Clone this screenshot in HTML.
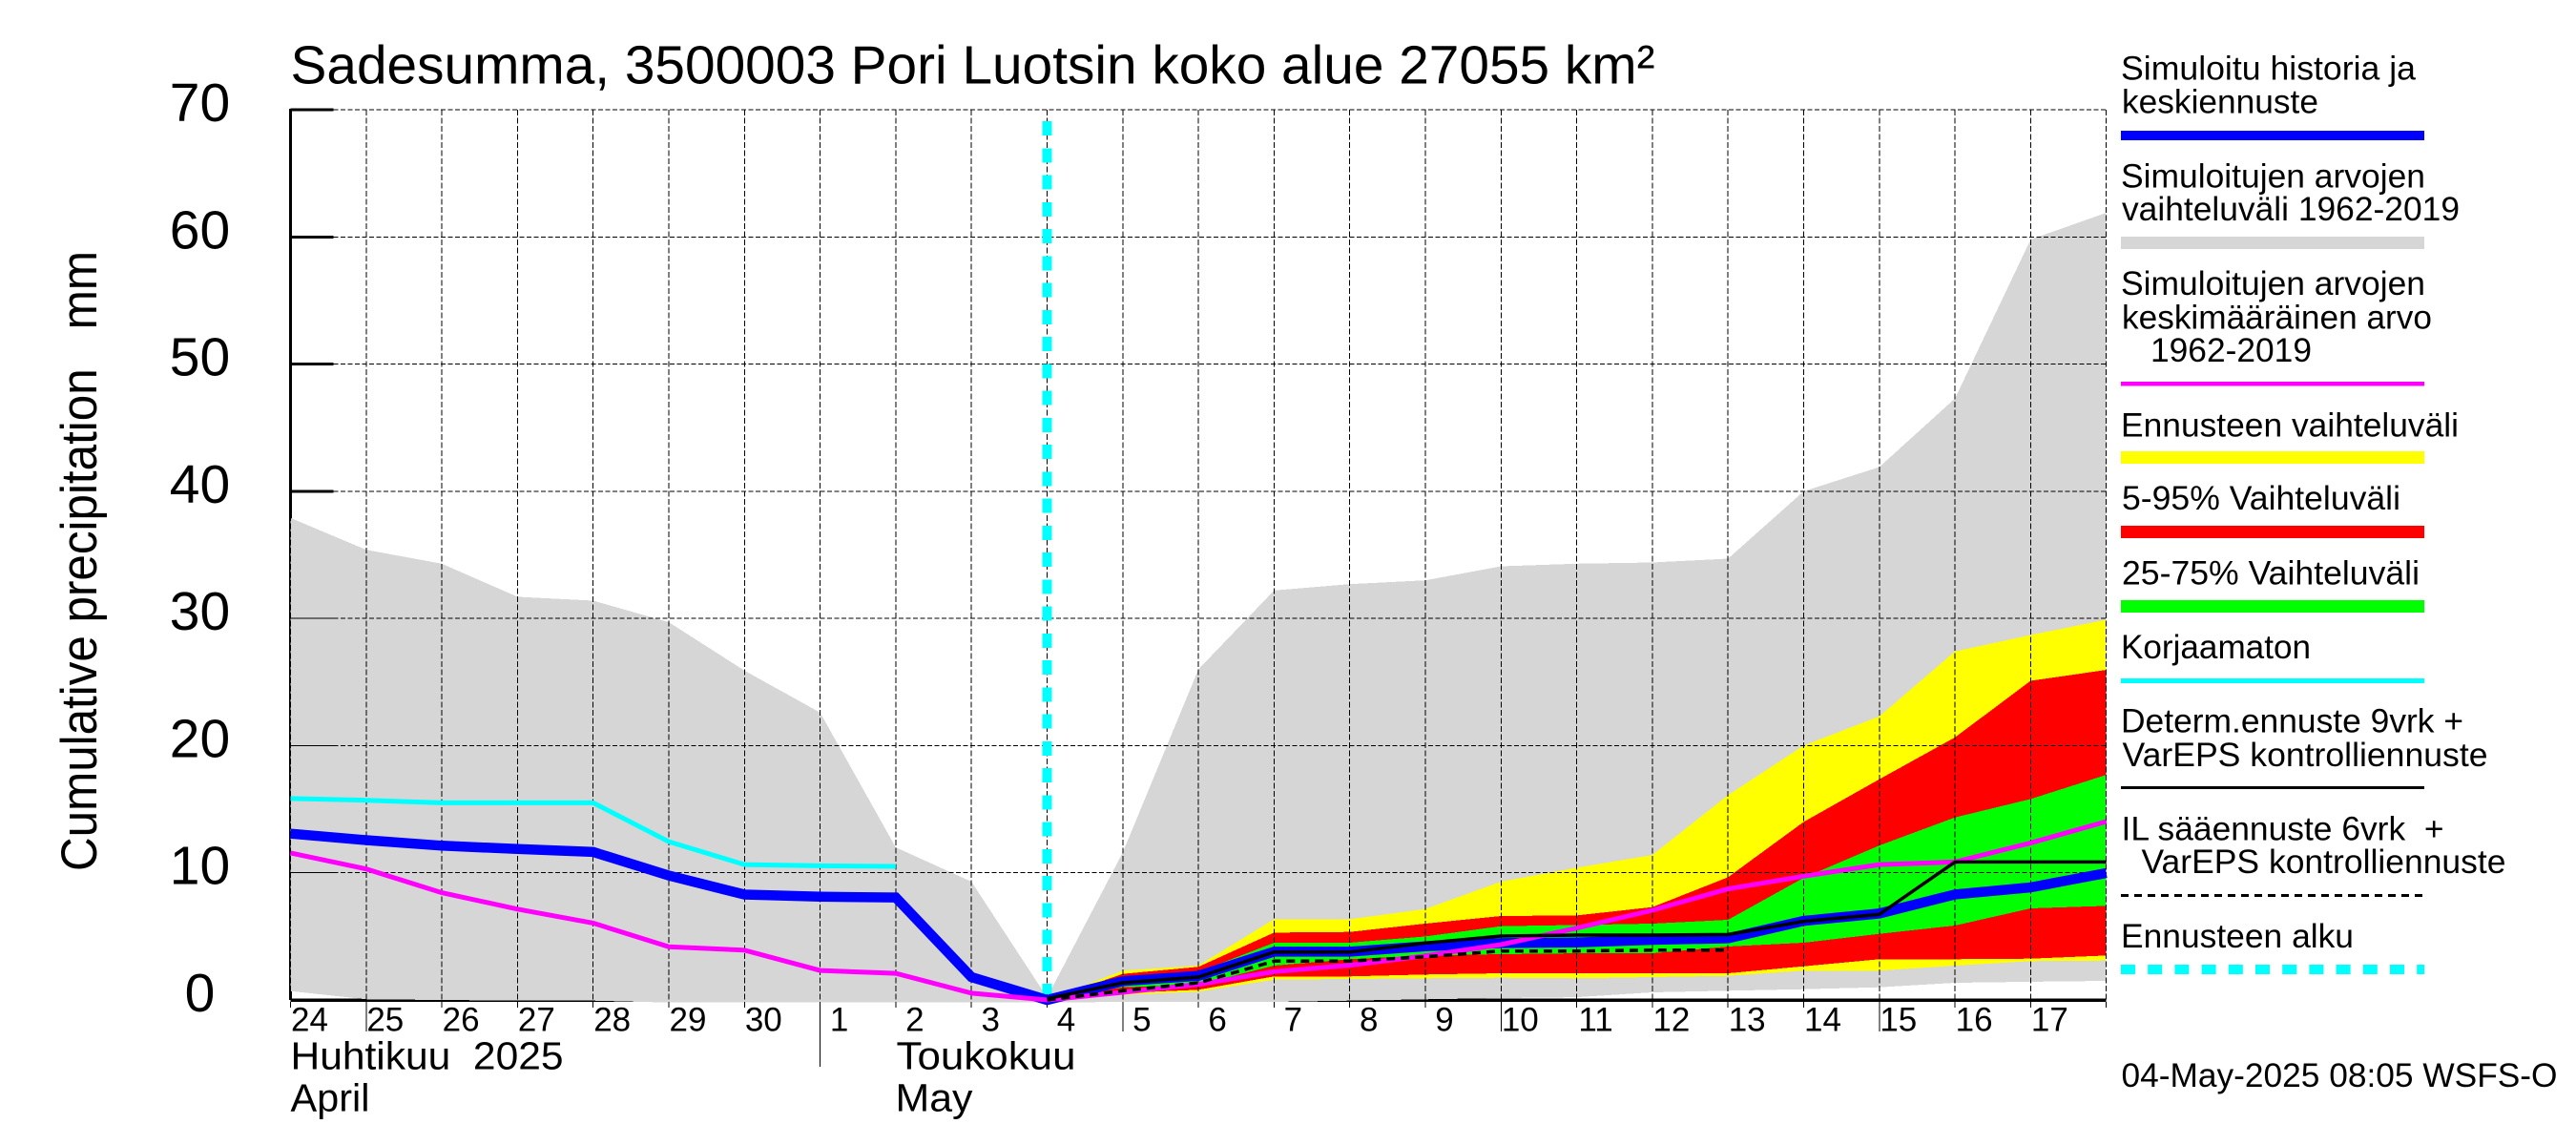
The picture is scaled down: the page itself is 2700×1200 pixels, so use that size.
<!DOCTYPE html>
<html lang="fi">
<head>
<meta charset="utf-8">
<title>Sadesumma, 3500003 Pori Luotsin koko alue</title>
<style>
  html, body { margin: 0; padding: 0; background: #fff; }
  svg { display: block; }
  text { font-family: "Liberation Sans", sans-serif; fill: #000; white-space: pre; }
  .lg { font-size: 35px; }
</style>
</head>
<body>
<svg id="chart" xmlns="http://www.w3.org/2000/svg" width="2700" height="1200" viewBox="0 0 2700 1200">
  <rect x="0" y="0" width="2700" height="1200" fill="#fff"/>
  <text x="304.5" y="87.5" font-size="57" textLength="1430" lengthAdjust="spacingAndGlyphs">Sadesumma, 3500003 Pori Luotsin koko alue 27055 km²</text>
  <text transform="translate(101,913) rotate(-90)" x="0" y="0" font-size="53" textLength="650" lengthAdjust="spacingAndGlyphs">Cumulative precipitation   mm</text>
  <g id="plot"></g>

  <text x="304.5" y="1120.5" font-size="41" textLength="286" lengthAdjust="spacingAndGlyphs">Huhtikuu  2025</text>
  <text x="304.5" y="1164.5" font-size="41" textLength="83" lengthAdjust="spacingAndGlyphs">April</text>
  <text x="939.5" y="1120.5" font-size="41" textLength="188" lengthAdjust="spacingAndGlyphs">Toukokuu</text>
  <text x="938.5" y="1164.5" font-size="41" textLength="81" lengthAdjust="spacingAndGlyphs">May</text>

  <g>
    <text class="lg" x="2223" y="83.4" textLength="309" lengthAdjust="spacingAndGlyphs">Simuloitu historia ja</text>
    <text class="lg" x="2224" y="118.6" textLength="206" lengthAdjust="spacingAndGlyphs">keskiennuste</text>
    <rect x="2223" y="137" width="318" height="10" fill="#0000ff"/>

    <text class="lg" x="2223" y="196.3" textLength="319" lengthAdjust="spacingAndGlyphs">Simuloitujen arvojen</text>
    <text class="lg" x="2224" y="230.8" textLength="354" lengthAdjust="spacingAndGlyphs">vaihteluväli 1962-2019</text>
    <rect x="2223" y="248" width="318" height="13" fill="#d6d6d6"/>

    <text class="lg" x="2223" y="309.2" textLength="319" lengthAdjust="spacingAndGlyphs">Simuloitujen arvojen</text>
    <text class="lg" x="2224" y="344.4" textLength="325" lengthAdjust="spacingAndGlyphs">keskimääräinen arvo</text>
    <text class="lg" x="2254" y="378.9" textLength="169" lengthAdjust="spacingAndGlyphs">1962-2019</text>
    <rect x="2223" y="400" width="318" height="4.5" fill="#ff00ff"/>

    <text class="lg" x="2223" y="457.3" textLength="354" lengthAdjust="spacingAndGlyphs">Ennusteen vaihteluväli</text>
    <rect x="2223" y="473" width="318" height="13" fill="#ffff00"/>

    <text class="lg" x="2224" y="533.9" textLength="292" lengthAdjust="spacingAndGlyphs">5-95% Vaihteluväli</text>
    <rect x="2223" y="551" width="318" height="13" fill="#ff0000"/>

    <text class="lg" x="2224" y="612.6" textLength="312" lengthAdjust="spacingAndGlyphs">25-75% Vaihteluväli</text>
    <rect x="2223" y="629" width="318" height="13" fill="#00ff00"/>

    <text class="lg" x="2223" y="690" textLength="199" lengthAdjust="spacingAndGlyphs">Korjaamaton</text>
    <rect x="2223" y="711" width="318" height="5" fill="#00ffff"/>

    <text class="lg" x="2223" y="767.6" textLength="359" lengthAdjust="spacingAndGlyphs">Determ.ennuste 9vrk +</text>
    <text class="lg" x="2224.5" y="802.8" textLength="383" lengthAdjust="spacingAndGlyphs">VarEPS kontrolliennuste</text>
    <rect x="2223" y="824" width="318" height="3" fill="#000"/>

    <text class="lg" x="2223.5" y="880.5" textLength="338" lengthAdjust="spacingAndGlyphs">IL sääennuste 6vrk  +</text>
    <text class="lg" x="2244.5" y="915" textLength="382" lengthAdjust="spacingAndGlyphs">VarEPS kontrolliennuste</text>
    <line x1="2223" y1="938.5" x2="2541" y2="938.5" stroke="#000" stroke-width="3" stroke-dasharray="8 6"/>

    <text class="lg" x="2223" y="993" textLength="244" lengthAdjust="spacingAndGlyphs">Ennusteen alku</text>
    <line x1="2223" y1="1016" x2="2541" y2="1016" stroke="#00ffff" stroke-width="10" stroke-dasharray="15 13.2"/>

    <text class="lg" x="2223.5" y="1138.8" textLength="457" lengthAdjust="spacingAndGlyphs">04-May-2025 08:05 WSFS-O</text>
  </g>
</svg>
<script>
// ---- chart data (cumulative precipitation, mm) ----
const yTickValues = [0, 10, 20, 30, 40, 50, 60, 70];
const dayLabels = ['24','25','26','27','28','29','30','1','2','3','4','5','6','7','8','9','10','11','12','13','14','15','16','17'];
const longTickLabels = ['25','5','10','15'];
const monthBoundaryLabel = '1';
const forecastStartDay = '4';

const rangeUpper = [37.9,35.4,34.3,31.7,31.4,29.7,25.9,22.6,12.0,9.3,0.2,11.6,26.0,32.2,32.7,33.0,34.1,34.3,34.4,34.7,40.0,41.9,47.3,59.8,61.9];
const rangeLower = [0.7,0.05,0,-0.05,-0.05,-0.2,-0.2,-0.2,-0.2,-0.2,-0.2,-0.15,-0.15,-0.15,-0.05,0.05,0.15,0.22,0.6,0.73,0.85,1.0,1.35,1.43,1.5];

const N = null;
const forecastUpper = [N,N,N,N,N,N,N,N,N,N,0,2.3,2.7,6.35,6.35,7.15,9.3,10.4,11.4,16.1,20.0,22.3,27.4,28.7,29.9];
const forecastLower = [N,N,N,N,N,N,N,N,N,N,0,0.4,0.65,1.6,1.65,1.7,1.75,1.7,1.8,1.9,2.3,2.3,2.7,3.05,3.1];
const p95 = [N,N,N,N,N,N,N,N,N,N,0,2.05,2.6,5.3,5.35,6.0,6.6,6.65,7.3,9.65,14.0,17.35,20.65,25.1,25.95];
const p05 = [N,N,N,N,N,N,N,N,N,N,0,0.55,0.8,1.85,1.85,2.0,2.1,2.1,2.1,2.1,2.65,3.2,3.2,3.25,3.5];
const p75 = [N,N,N,N,N,N,N,N,N,N,0,1.7,2.2,4.5,4.5,5.0,5.8,5.9,6.0,6.3,9.6,12.15,14.35,15.8,17.7];
const p25 = [N,N,N,N,N,N,N,N,N,N,0,1.0,1.2,2.7,3.2,3.5,3.6,3.67,3.67,4.2,4.5,5.2,5.85,7.2,7.4];

const simulatedMean = [13.08,12.57,12.13,11.87,11.64,9.78,8.29,8.12,8.06,1.8,0,1.48,1.9,3.8,3.8,4.22,4.47,4.52,4.73,4.85,6.22,6.8,8.3,8.85,9.98];
const uncorrected = [15.84,15.7,15.5,15.5,15.5,12.45,10.65,10.55,10.5,N,N,N,N,N,N,N,N,N,N,N,N,N,N,N,N];
const climateMean = [11.56,10.3,8.43,7.14,6.05,4.18,3.92,2.32,2.09,0.53,0,0.6,1.22,2.23,2.73,3.47,4.35,5.65,7.05,8.73,9.73,10.65,10.85,12.35,14.03];
const determForecast = [N,N,N,N,N,N,N,N,N,N,0.1,1.35,1.8,3.77,3.77,4.47,5.03,5.1,5.1,5.15,6.18,6.73,10.85,10.85,10.85];
const ilForecast = [N,N,N,N,N,N,N,N,N,N,0,0.72,1.35,3.05,3.05,3.4,3.85,3.85,3.92,3.92,N,N,N,N,N];

// ---- axis functions ----
const xAt = i => 304.5 + 79.3 * i;
const yAt = v => 1048 - (933 / 70) * v;
const AXIS_END_INDEX = dayLabels.length;
const Y_MAX = yTickValues[yTickValues.length - 1];

const plot = document.getElementById('plot');
const SVGNS = 'http://www.w3.org/2000/svg';
function add(tag, attrs, parent) {
  const el = document.createElementNS(SVGNS, tag);
  for (const k in attrs) el.setAttribute(k, attrs[k]);
  (parent || plot).appendChild(el);
  return el;
}
function bandPoints(upper, lower) {
  const top = [], bottom = [];
  upper.forEach((v, i) => { if (v !== null) top.push(xAt(i).toFixed(1) + ',' + yAt(v).toFixed(1)); });
  lower.forEach((v, i) => { if (v !== null) bottom.unshift(xAt(i).toFixed(1) + ',' + yAt(v).toFixed(1)); });
  return top.concat(bottom).join(' ');
}
function linePoints(values) {
  const pts = [];
  values.forEach((v, i) => { if (v !== null) pts.push(xAt(i).toFixed(1) + ',' + yAt(v).toFixed(1)); });
  return pts.join(' ');
}
const x0 = xAt(0), xEnd = xAt(AXIS_END_INDEX), y0 = yAt(0), yTop = yAt(Y_MAX);

// thick axes and ticks (beneath the filled ranges)
const axisLeft = add('line', { x1: x0, y1: yTop - 1, x2: x0, y2: y0, stroke: '#000', 'stroke-width': 3, 'shape-rendering': 'crispEdges' });


const axisBottom = add('line', { x1: x0, y1: y0, x2: xEnd, y2: y0, stroke: '#000', 'stroke-width': 3.5, 'shape-rendering': 'crispEdges' });


yTickValues.forEach(v => {
  const t = add('line', { x1: x0, y1: yAt(v), x2: x0 + 45, y2: yAt(v), stroke: '#000', 'stroke-width': 3, 'shape-rendering': 'crispEdges' });
  
  
});

// filled ranges
const rangeBand = add('polygon', { points: bandPoints(rangeUpper, rangeLower), fill: '#d6d6d6', 'shape-rendering': 'crispEdges' });


const yellowBand = add('polygon', { points: bandPoints(forecastUpper, forecastLower), fill: '#ffff00', 'shape-rendering': 'crispEdges' });


const redBand = add('polygon', { points: bandPoints(p95, p05), fill: '#ff0000', 'shape-rendering': 'crispEdges' });


const greenBand = add('polygon', { points: bandPoints(p75, p25), fill: '#00ff00', 'shape-rendering': 'crispEdges' });



// grid
yTickValues.forEach(v => {
  if (v === 0) return;
  const g = add('line', { x1: x0 + 45, y1: yAt(v), x2: xEnd, y2: yAt(v), stroke: '#000', 'stroke-width': 1, 'stroke-dasharray': '5 2.5', 'shape-rendering': 'crispEdges' });
  
  
  const s = add('line', { x1: x0, y1: yAt(v), x2: x0 + 45, y2: yAt(v), stroke: '#000', 'stroke-width': 1, 'shape-rendering': 'crispEdges' });
  
  
});
for (let i = 0; i <= AXIS_END_INDEX; i++) {
  const g = add('line', { x1: xAt(i), y1: yTop, x2: xAt(i), y2: y0 + 9, stroke: '#000', 'stroke-width': 1, 'stroke-dasharray': '6 2.5', 'shape-rendering': 'crispEdges' });
  
  
}
dayLabels.forEach((label, i) => {
  let bottom = 0;
  if (longTickLabels.includes(label)) bottom = 1081;
  if (label === monthBoundaryLabel) bottom = 1118;
  if (bottom) {
    const t = add('line', { x1: xAt(i), y1: y0 + 2, x2: xAt(i), y2: bottom, stroke: '#000', 'stroke-width': 1, 'shape-rendering': 'crispEdges' });
    
    
  }
});

// forecast start marker
const startX = xAt(dayLabels.indexOf(forecastStartDay));
const startLine = add('line', { x1: startX, y1: 127, x2: startX, y2: 1042, stroke: '#00ffff', 'stroke-width': 10, 'stroke-dasharray': '15 13.25', 'shape-rendering': 'crispEdges' });



// series lines
const lineAttrs = { fill: 'none', 'stroke-linejoin': 'miter' };
const cyanLine = add('polyline', Object.assign({ points: linePoints(uncorrected), stroke: '#00ffff', 'stroke-width': 5 }, lineAttrs));


const blueLine = add('polyline', Object.assign({ points: linePoints(simulatedMean), stroke: '#0000ff', 'stroke-width': 10.5 }, lineAttrs));


const magentaLine = add('polyline', Object.assign({ points: linePoints(climateMean), stroke: '#ff00ff', 'stroke-width': 5 }, lineAttrs));


const ilLine = add('polyline', Object.assign({ points: linePoints(ilForecast), stroke: '#000', 'stroke-width': 3.5, 'stroke-dasharray': '9 6' }, lineAttrs));


const detLine = add('polyline', Object.assign({ points: linePoints(determForecast), stroke: '#000', 'stroke-width': 3.5 }, lineAttrs));



// tick labels
yTickValues.forEach(v => {
  const t = add('text', { x: 209.5, y: yAt(v) + 12, 'font-size': 57, 'text-anchor': 'middle' });
  
  
  t.textContent = String(v);
});
dayLabels.forEach((label, i) => {
  const t = add('text', { x: xAt(i) + 20, y: 1080.5, 'font-size': 35, 'text-anchor': 'middle' });
  
  
  t.textContent = label;
});
</script>
</body>
</html>
